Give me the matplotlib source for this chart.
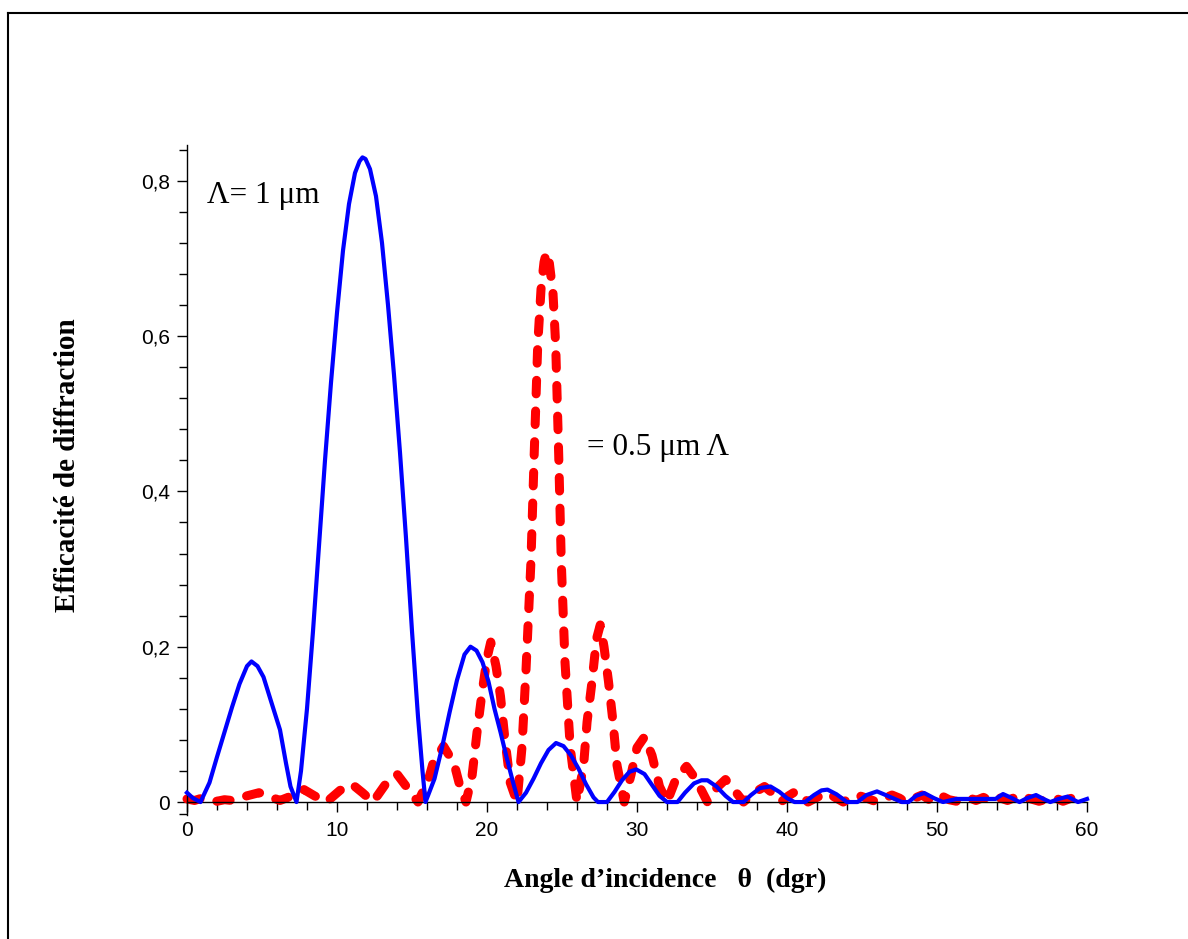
import numpy as np
import matplotlib
matplotlib.use("Agg")
import matplotlib.pyplot as plt
from matplotlib.lines import Line2D
from matplotlib.ticker import FixedLocator, FuncFormatter

# courbe Lambda = 0.5 um (rouge, pointillés)
x_red = [0.0, 0.5, 1.0, 1.5, 2.0, 2.5, 3.0, 3.5, 4.0, 4.8, 5.5, 6.2, 7.0, 7.8, 8.5, 9.3,
         10.2, 11.0, 11.7, 12.4, 13.2, 14.0, 14.7, 15.4, 16.1, 16.4, 17.1, 17.8, 18.2, 18.6,
         19.0, 19.33, 19.67, 20.0, 20.25, 20.6, 20.9, 21.2, 21.55, 22.0,
         22.33, 22.6, 22.93, 23.15, 23.38, 23.6, 23.8, 23.96, 24.15, 24.4, 24.58, 24.78,
         24.95, 25.2, 25.55, 26.0, 26.44, 26.67, 27.0, 27.3, 27.55, 27.8, 28.1, 28.4, 28.67,
         29.15, 29.6, 30.0, 30.5, 31.0, 31.5, 32.0, 32.6, 33.3, 33.9, 34.7, 35.3, 35.9, 36.5,
         37.1, 37.8, 38.5, 39.0, 39.6, 40.1, 40.6, 41.0, 41.4, 42.0, 42.7, 43.2, 43.75, 44.2,
         44.7, 45.3, 46.0, 46.5, 47.0, 47.5, 47.9, 48.5, 49.0, 49.4, 49.7, 50.0, 50.4, 50.8,
         51.3, 52.1, 52.6, 53.1, 53.6, 54.1, 54.7, 55.2, 55.6, 55.9, 56.8, 57.8, 58.4, 59.1,
         59.6, 60.0]
y_red = [0.004, 0.002, 0.005, 0.004, 0.001, 0.003, 0.002, 0.004, 0.008, 0.012, 0.007, 0.002,
         0.008, 0.016, 0.008, 0.0, 0.015, 0.023, 0.012, 0.0, 0.022, 0.036, 0.018, 0.0, 0.029,
         0.05, 0.072, 0.05, 0.02, 0.0, 0.033, 0.089, 0.141, 0.185, 0.206, 0.175, 0.136, 0.080,
         0.025, 0.0, 0.07, 0.17, 0.31, 0.45, 0.588, 0.66, 0.695, 0.708, 0.695, 0.655, 0.588,
         0.447, 0.31, 0.18, 0.07, 0.0, 0.047, 0.103, 0.155, 0.21, 0.228, 0.2, 0.155, 0.103,
         0.047, 0.0, 0.035, 0.07, 0.084, 0.06, 0.02, 0.0, 0.03, 0.046, 0.03, 0.0, 0.018, 0.029,
         0.015, 0.0, 0.012, 0.020, 0.012, 0.0, 0.008, 0.014, 0.008, 0.0, 0.006, 0.012, 0.006,
         0.0, 0.005, 0.009, 0.005, 0.0, 0.005, 0.009, 0.005, 0.0, 0.005, 0.009, 0.004, 0.0,
         0.003, 0.007, 0.003, 0.001, 0.006, 0.002, 0.006, 0.001, 0.006, 0.002, 0.006, 0.003,
         0.006, 0.001, 0.006, 0.001, 0.006, 0.002, 0.003]

# courbe Lambda = 1 um (bleu, trait plein)
x_blue = [0.0, 0.4, 0.9, 1.5, 2.0, 2.5, 3.0, 3.5, 4.0, 4.3, 4.7, 5.1, 5.6, 6.2, 6.6, 6.9, 7.3,
          7.6, 8.0, 8.4, 8.8, 9.2, 9.6, 10.0, 10.4, 10.8, 11.2, 11.5, 11.7, 11.9, 12.2, 12.6,
          13.0, 13.4, 13.8, 14.2, 14.6, 15.0, 15.4, 15.7, 15.9,
          16.5, 17.0, 17.5, 18.0, 18.5, 18.9, 19.3, 19.7, 20.1,
          20.5, 20.9, 21.3, 21.7, 22.1, 22.6, 23.1, 23.6, 24.1, 24.6, 25.1, 25.6, 26.1, 26.6,
          27.1, 27.4, 28.0, 28.5, 29.0, 29.5, 29.95, 30.5, 31.0, 31.5, 32.0, 32.7, 33.2, 33.8,
          34.3, 34.7, 35.3, 35.9, 36.4, 37.1, 37.6, 38.2, 38.9, 39.5, 40.0, 40.5, 41.2, 41.8,
          42.3, 42.7, 43.3, 44.0, 44.7, 45.3, 46.0, 46.7, 47.65, 48.1, 48.6, 49.15, 49.8, 50.4,
          51.3, 53.9, 54.4, 55.0, 55.5, 56.0, 56.6, 57.1, 57.55, 58.1, 58.7, 59.4, 60.0]
y_blue = [0.012, 0.005, 0.0, 0.025, 0.058, 0.09, 0.122, 0.152, 0.175, 0.181, 0.175, 0.161,
          0.13, 0.093, 0.05, 0.02, 0.0,
          0.04, 0.12, 0.22, 0.33, 0.44, 0.54, 0.63, 0.71, 0.77, 0.81, 0.825, 0.83, 0.828,
          0.815, 0.78, 0.72, 0.64, 0.55, 0.45, 0.34, 0.22, 0.11, 0.04, 0.0,
          0.03, 0.07, 0.115,
          0.157, 0.19, 0.20, 0.195, 0.18, 0.155, 0.12, 0.09, 0.058, 0.028, 0.0, 0.012, 0.03,
          0.05, 0.067, 0.076, 0.072, 0.06, 0.043, 0.023, 0.006, 0.0, 0.0, 0.013, 0.028, 0.039,
          0.042, 0.036, 0.022, 0.008, 0.0, 0.0, 0.012, 0.024, 0.028, 0.028, 0.02, 0.008, 0.0,
          0.0, 0.009, 0.018, 0.02, 0.013, 0.005, 0.0, 0.0, 0.009, 0.015, 0.016, 0.01, 0.0, 0.0,
          0.009, 0.0137, 0.008, 0.0, 0.0, 0.008, 0.0116, 0.005, 0.0, 0.004, 0.004, 0.0103,
          0.005, 0.0, 0.005, 0.009, 0.004, 0.0, 0.004, 0.007, 0.0, 0.004]

x_ticks = [0, 10, 20, 30, 40, 50, 60]
y_ticks = [0, 0.2, 0.4, 0.6, 0.8]

sans = ['Liberation Sans', 'DejaVu Sans']
serif = ['Liberation Serif', 'DejaVu Serif']

fig = plt.figure(figsize=(11.88, 9.39), dpi=100)
ax = fig.add_axes([0.1574, 0.1318, 0.7576, 0.7138])

ax.plot(x_red, y_red, color='#ff0000', lw=6.5, linestyle=(0, (1.5, 1.9)),
        dash_capstyle='round', solid_capstyle='round', clip_on=False, zorder=2)
ax.plot(x_blue, y_blue, color='#0000ff', lw=3.0, solid_joinstyle='round', clip_on=False,
        zorder=3)

ax.set_xlim(0, 60)
ax.set_ylim(-0.017, 0.846)

for s in ['top', 'right']:
    ax.spines[s].set_visible(False)
ax.spines['bottom'].set_position(('data', 0))
ax.spines['bottom'].set_linewidth(1.0)
ax.spines['left'].set_linewidth(1.0)

ax.set_xticks(x_ticks)
ax.set_yticks(y_ticks)
ax.xaxis.set_minor_locator(FixedLocator(np.arange(0, 61, 2)))
ax.yaxis.set_minor_locator(FixedLocator(list(np.arange(0, 0.85, 0.04)) + [-0.016]))
ax.yaxis.set_major_formatter(FuncFormatter(lambda v, p: ('%g' % v).replace('.', ',')))
ax.tick_params(which='major', direction='out', length=7, width=1, labelsize=15)
ax.tick_params(axis='x', which='major', pad=7)
ax.tick_params(axis='y', which='major', pad=5)
ax.tick_params(which='minor', direction='out', length=6, width=1)
for lab in ax.get_xticklabels() + ax.get_yticklabels():
    lab.set_family(sans)

fig.text(665 / 1188, 1 - 880 / 939, 'Angle d\u2019incidence   \u03b8  (dgr)', ha='center',
         va='center', fontsize=20, fontweight='bold', family=serif)
fig.text(68 / 1188, 1 - 465 / 939, 'Efficacité de diffraction', ha='center', va='center',
         rotation=90, fontsize=21, fontweight='bold', family=serif)

ax.text(207 / 1188, 1 - 195 / 939, '\u039b= 1 \u03bcm', transform=fig.transFigure,
        ha='left', va='center', fontsize=22.5, family=serif)
ax.text(587 / 1188, 1 - 447 / 939, '= 0.5 \u03bcm \u039b', transform=fig.transFigure,
        ha='left', va='center', fontsize=22.5, family=serif)

# cadre (gauche et haut)
fig.add_artist(Line2D([7.5 / 1188, 7.5 / 1188], [0, 1 - 12.5 / 939], color='black', lw=1.5,
                      transform=fig.transFigure))
fig.add_artist(Line2D([7.5 / 1188, 1], [1 - 12.5 / 939, 1 - 12.5 / 939], color='black', lw=1.5,
                      transform=fig.transFigure))

fig.savefig('out.png', dpi=100)
